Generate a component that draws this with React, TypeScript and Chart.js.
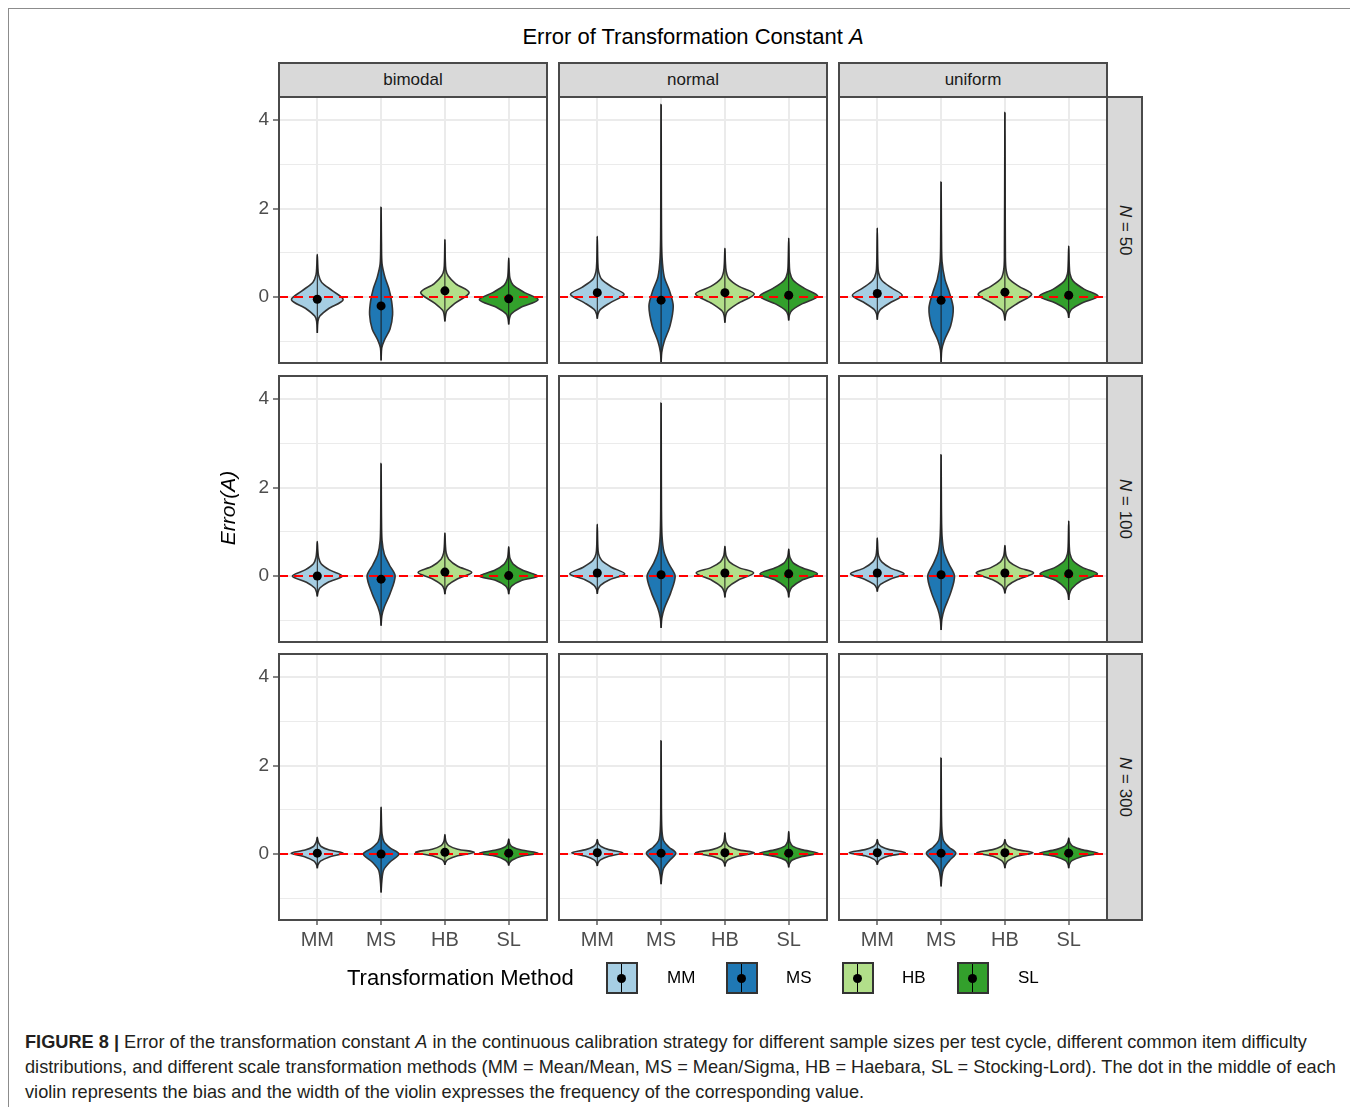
import React, { useEffect, useRef } from "react";
import { Chart, registerables } from "chart.js";

Chart.register(...registerables);

// ---------------- data ----------------
const methods = ["MM", "MS", "HB", "SL"];
const methodColors = ["#A6CEE3", "#1F78B4", "#B2DF8A", "#33A02C"];
const distributions = ["bimodal", "normal", "uniform"];
const sampleSizes = ["50", "100", "300"];
const yMajorBreaks = [0, 2, 4];
const yMinorBreaks = [-1, 1, 3];
const yLimits = [-1.49, 4.52];
const xLimits = [0.4, 4.6];

// bias (dot) per [distribution][method]
const biasN50 = [
  [-0.05, -0.2, 0.14, -0.04],
  [0.1, -0.07, 0.1, 0.04],
  [0.08, -0.075, 0.11, 0.04],
];
const biasN100 = [
  [0.0, -0.07, 0.09, 0.01],
  [0.07, 0.03, 0.07, 0.05],
  [0.07, 0.03, 0.07, 0.05],
];
const biasN300 = [
  [0.02, 0.0, 0.04, 0.02],
  [0.03, 0.02, 0.03, 0.02],
  [0.03, 0.02, 0.03, 0.02],
];

// violin outline per [distribution][method]: [error value, half width]
const violinN50 = [
  [
    [[-0.81, 0], [-0.55, 0.01], [-0.43, 0.04], [-0.27, 0.17], [-0.06, 0.405], [0.14, 0.24], [0.33, 0.07], [0.5, 0.02], [0.7, 0.008], [0.96, 0]],
    [[-1.43, 0], [-1.15, 0.01], [-0.98, 0.05], [-0.72, 0.14], [-0.4, 0.18], [-0.1, 0.165], [0.2, 0.12], [0.45, 0.06], [0.75, 0.015], [1.2, 0.006], [2.03, 0]],
    [[-0.55, 0], [-0.4, 0.012], [-0.3, 0.035], [-0.15, 0.15], [0.1, 0.38], [0.3, 0.17], [0.48, 0.05], [0.62, 0.015], [0.85, 0.006], [1.3, 0]],
    [[-0.62, 0], [-0.48, 0.012], [-0.38, 0.04], [-0.24, 0.18], [-0.06, 0.46], [0.1, 0.25], [0.27, 0.07], [0.42, 0.02], [0.6, 0.008], [0.88, 0]],
  ],
  [
    [[-0.49, 0], [-0.38, 0.012], [-0.28, 0.05], [-0.13, 0.2], [0.06, 0.42], [0.22, 0.24], [0.4, 0.07], [0.58, 0.02], [0.8, 0.008], [1.37, 0]],
    [[-1.5, 0], [-1.25, 0.01], [-1.0, 0.05], [-0.65, 0.14], [-0.2, 0.19], [0.15, 0.13], [0.45, 0.05], [0.9, 0.015], [1.6, 0.006], [4.35, 0]],
    [[-0.58, 0], [-0.42, 0.012], [-0.32, 0.04], [-0.15, 0.2], [0.07, 0.46], [0.24, 0.22], [0.42, 0.06], [0.58, 0.02], [0.78, 0.008], [1.1, 0]],
    [[-0.53, 0], [-0.4, 0.012], [-0.3, 0.05], [-0.16, 0.2], [0.02, 0.455], [0.2, 0.24], [0.38, 0.07], [0.55, 0.02], [0.8, 0.008], [1.33, 0]],
  ],
  [
    [[-0.51, 0], [-0.38, 0.012], [-0.28, 0.05], [-0.14, 0.19], [0.04, 0.39], [0.2, 0.23], [0.38, 0.07], [0.55, 0.02], [0.8, 0.008], [1.56, 0]],
    [[-1.47, 0], [-1.2, 0.01], [-0.98, 0.05], [-0.65, 0.15], [-0.25, 0.19], [0.1, 0.13], [0.4, 0.06], [0.8, 0.015], [1.4, 0.006], [2.6, 0]],
    [[-0.53, 0], [-0.4, 0.012], [-0.3, 0.04], [-0.14, 0.2], [0.06, 0.42], [0.24, 0.22], [0.42, 0.06], [0.6, 0.02], [0.9, 0.008], [4.17, 0]],
    [[-0.47, 0], [-0.36, 0.012], [-0.27, 0.05], [-0.14, 0.2], [0.02, 0.46], [0.18, 0.24], [0.36, 0.07], [0.52, 0.02], [0.75, 0.008], [1.15, 0]],
  ],
];
const violinN100 = [
  [
    [[-0.46, 0], [-0.36, 0.012], [-0.27, 0.04], [-0.14, 0.17], [0.0, 0.39], [0.14, 0.19], [0.28, 0.06], [0.42, 0.02], [0.58, 0.008], [0.78, 0]],
    [[-1.12, 0], [-0.9, 0.012], [-0.7, 0.05], [-0.4, 0.14], [0.0, 0.22], [0.25, 0.13], [0.5, 0.05], [0.8, 0.015], [1.3, 0.006], [2.54, 0]],
    [[-0.41, 0], [-0.3, 0.012], [-0.2, 0.05], [-0.06, 0.2], [0.08, 0.42], [0.22, 0.2], [0.38, 0.06], [0.52, 0.02], [0.7, 0.008], [0.97, 0]],
    [[-0.41, 0], [-0.31, 0.012], [-0.22, 0.05], [-0.1, 0.2], [0.0, 0.46], [0.13, 0.22], [0.27, 0.07], [0.4, 0.02], [0.52, 0.008], [0.66, 0]],
  ],
  [
    [[-0.4, 0], [-0.3, 0.012], [-0.21, 0.05], [-0.08, 0.2], [0.05, 0.43], [0.2, 0.22], [0.35, 0.07], [0.5, 0.02], [0.7, 0.008], [1.17, 0]],
    [[-1.17, 0], [-0.95, 0.012], [-0.73, 0.05], [-0.38, 0.15], [0.0, 0.22], [0.28, 0.12], [0.55, 0.045], [0.9, 0.015], [1.5, 0.006], [3.91, 0]],
    [[-0.48, 0], [-0.36, 0.012], [-0.25, 0.05], [-0.1, 0.2], [0.07, 0.45], [0.19, 0.22], [0.32, 0.07], [0.45, 0.02], [0.55, 0.008], [0.67, 0]],
    [[-0.48, 0], [-0.36, 0.012], [-0.25, 0.05], [-0.1, 0.2], [0.05, 0.45], [0.18, 0.22], [0.3, 0.07], [0.42, 0.02], [0.5, 0.008], [0.61, 0]],
  ],
  [
    [[-0.35, 0], [-0.27, 0.012], [-0.19, 0.05], [-0.07, 0.2], [0.05, 0.42], [0.18, 0.21], [0.32, 0.07], [0.46, 0.02], [0.62, 0.008], [0.86, 0]],
    [[-1.22, 0], [-0.98, 0.012], [-0.75, 0.05], [-0.38, 0.15], [0.0, 0.21], [0.28, 0.12], [0.55, 0.045], [0.9, 0.015], [1.4, 0.006], [2.74, 0]],
    [[-0.39, 0], [-0.3, 0.012], [-0.21, 0.05], [-0.08, 0.2], [0.07, 0.45], [0.19, 0.22], [0.32, 0.07], [0.45, 0.02], [0.56, 0.008], [0.69, 0]],
    [[-0.54, 0], [-0.4, 0.012], [-0.28, 0.05], [-0.1, 0.2], [0.05, 0.45], [0.19, 0.22], [0.34, 0.07], [0.5, 0.02], [0.7, 0.008], [1.24, 0]],
  ],
];
const violinN300 = [
  [
    [[-0.32, 0], [-0.24, 0.012], [-0.16, 0.05], [-0.07, 0.18], [0.02, 0.41], [0.09, 0.19], [0.17, 0.06], [0.26, 0.02], [0.32, 0.008], [0.38, 0]],
    [[-0.87, 0], [-0.6, 0.012], [-0.36, 0.04], [-0.18, 0.14], [0.0, 0.28], [0.14, 0.14], [0.28, 0.045], [0.45, 0.015], [0.7, 0.006], [1.06, 0]],
    [[-0.24, 0], [-0.18, 0.012], [-0.12, 0.05], [-0.04, 0.2], [0.04, 0.46], [0.11, 0.2], [0.19, 0.06], [0.27, 0.02], [0.34, 0.008], [0.44, 0]],
    [[-0.26, 0], [-0.2, 0.012], [-0.14, 0.05], [-0.05, 0.2], [0.02, 0.46], [0.09, 0.2], [0.16, 0.06], [0.22, 0.02], [0.28, 0.008], [0.34, 0]],
  ],
  [
    [[-0.27, 0], [-0.2, 0.012], [-0.13, 0.05], [-0.05, 0.18], [0.03, 0.4], [0.1, 0.18], [0.17, 0.06], [0.23, 0.02], [0.28, 0.008], [0.33, 0]],
    [[-0.68, 0], [-0.5, 0.012], [-0.32, 0.04], [-0.15, 0.13], [0.02, 0.23], [0.16, 0.12], [0.3, 0.04], [0.5, 0.015], [0.9, 0.006], [2.56, 0]],
    [[-0.28, 0], [-0.2, 0.012], [-0.13, 0.05], [-0.05, 0.2], [0.03, 0.46], [0.1, 0.2], [0.18, 0.06], [0.27, 0.02], [0.36, 0.008], [0.48, 0]],
    [[-0.3, 0], [-0.22, 0.012], [-0.14, 0.05], [-0.06, 0.2], [0.02, 0.46], [0.1, 0.2], [0.18, 0.06], [0.27, 0.02], [0.36, 0.008], [0.51, 0]],
  ],
  [
    [[-0.24, 0], [-0.18, 0.012], [-0.12, 0.05], [-0.04, 0.19], [0.03, 0.44], [0.1, 0.19], [0.17, 0.06], [0.23, 0.02], [0.28, 0.008], [0.33, 0]],
    [[-0.73, 0], [-0.52, 0.012], [-0.33, 0.04], [-0.15, 0.13], [0.02, 0.23], [0.16, 0.12], [0.3, 0.04], [0.5, 0.015], [0.85, 0.006], [2.17, 0]],
    [[-0.32, 0], [-0.23, 0.012], [-0.15, 0.05], [-0.05, 0.19], [0.03, 0.44], [0.1, 0.19], [0.17, 0.06], [0.23, 0.02], [0.28, 0.008], [0.33, 0]],
    [[-0.32, 0], [-0.23, 0.012], [-0.15, 0.05], [-0.06, 0.2], [0.02, 0.46], [0.1, 0.2], [0.18, 0.06], [0.25, 0.02], [0.3, 0.008], [0.36, 0]],
  ],
];

const violinRows = [violinN50, violinN100, violinN300];
const biasRows = [biasN50, biasN100, biasN300];

// ---------------- layout ----------------
const OFF = 8;
const FONT = "'Liberation Sans', Arial, Helvetica, sans-serif";
const panelX = [279, 559, 839];
const panelY = [97, 376, 654];
const PW = 268;
const PH = 266;
const AXIS_W = 50;
const AXIS_H = 45;
const STRIP_TOP = 62;
const STRIP_RIGHT_W = 35;

function buildDatasets(profiles: number[][][], bias: number[]) {
  const ds: any[] = [];
  profiles.forEach((prof, i) => {
    const cx = i + 1;
    const right = prof.map(([y, w]) => ({ x: cx + w, y }));
    const left = prof
      .slice()
      .reverse()
      .map(([y, w]) => ({ x: cx - w, y }));
    ds.push({
      data: right.concat(left.slice(1)),
      showLine: true,
      fill: "shape",
      backgroundColor: methodColors[i],
      borderColor: "#333333",
      borderWidth: 1.6,
      pointRadius: 0,
      tension: 0.3,
      order: 5,
    });
    ds.push({
      data: [
        { x: cx, y: prof[0][0] },
        { x: cx, y: prof[prof.length - 1][0] },
      ],
      showLine: true,
      borderColor: "#1a1a1a",
      borderWidth: 1,
      pointRadius: 0,
      order: 4,
    });
  });
  ds.push({
    data: [
      { x: xLimits[0], y: 0 },
      { x: xLimits[1], y: 0 },
    ],
    showLine: true,
    borderColor: "#ff0000",
    borderWidth: 2,
    borderDash: [9, 6],
    pointRadius: 0,
    order: 3,
  });
  ds.push({
    data: bias.map((b, i) => ({ x: i + 1, y: b })),
    showLine: false,
    pointRadius: 4.5,
    pointBackgroundColor: "#000000",
    pointBorderWidth: 0,
    backgroundColor: "#000000",
    borderColor: "#000000",
    order: 2,
  });
  return ds;
}

function Panel({ row, col }: { row: number; col: number }) {
  const ref = useRef<HTMLCanvasElement>(null);
  const isLeft = col === 0;
  const isBottom = row === 2;
  const w = PW + (isLeft ? AXIS_W : 0);
  const h = PH + (isBottom ? AXIS_H : 0);
  useEffect(() => {
    if (!ref.current) return;
    const chart = new Chart(ref.current, {
      type: "scatter",
      data: { datasets: buildDatasets(violinRows[row][col], biasRows[row][col]) },
      options: {
        animation: false,
        responsive: false,
        maintainAspectRatio: false,
        events: [],
        layout: { padding: 0, autoPadding: false },
        plugins: {
          legend: { display: false },
          tooltip: { enabled: false },
          title: { display: false },
        },
        scales: {
          x: {
            type: "linear",
            min: xLimits[0],
            max: xLimits[1],
            afterBuildTicks: (s: any) => {
              s.ticks = methods.map((_, i) => ({ value: i + 1 }));
            },
            afterFit: (s: any) => {
              s.height = isBottom ? AXIS_H : 0;
              s.paddingLeft = 0;
              s.paddingRight = 0;
              s.paddingTop = 0;
              s.paddingBottom = 0;
            },
            ticks: {
              display: isBottom,
              autoSkip: false,
              maxRotation: 0,
              padding: 3,
              color: "#4d4d4d",
              font: { family: FONT, size: 20 },
              callback: (v: any) => methods[Math.round(Number(v)) - 1] ?? "",
            },
            grid: {
              color: "#ebebeb",
              lineWidth: 2,
              drawTicks: isBottom,
              tickLength: 5,
              tickColor: "#333333",
              tickWidth: 1.2,
            },
            border: { display: false },
          },
          y: {
            type: "linear",
            min: yLimits[0],
            max: yLimits[1],
            afterBuildTicks: (s: any) => {
              s.ticks = [...yMinorBreaks, ...yMajorBreaks]
                .sort((a, b) => a - b)
                .map((v) => ({ value: v }));
            },
            afterFit: (s: any) => {
              s.width = isLeft ? AXIS_W : 0;
              s.paddingLeft = 0;
              s.paddingRight = 0;
              s.paddingTop = 0;
              s.paddingBottom = 0;
            },
            ticks: {
              display: isLeft,
              padding: 4,
              color: "#4d4d4d",
              font: { family: FONT, size: 19 },
              callback: (v: any) => (yMajorBreaks.includes(Number(v)) ? String(v) : ""),
            },
            grid: {
              color: "#ebebeb",
              lineWidth: (c: any) => (c.tick && yMajorBreaks.includes(c.tick.value) ? 2 : 1),
              drawTicks: isLeft,
              tickLength: 6,
              tickWidth: 1.2,
              tickColor: (c: any) =>
                c.tick && yMajorBreaks.includes(c.tick.value) ? "#333333" : "rgba(0,0,0,0)",
            },
            border: { display: false },
          },
        },
      } as any,
    });
    return () => chart.destroy();
  }, [row, col]);
  return (
    <>
      <canvas
        ref={ref}
        width={w}
        height={h}
        style={{
          position: "absolute",
          left: panelX[col] - (isLeft ? AXIS_W : 0) - OFF,
          top: panelY[row] - OFF,
          width: w,
          height: h,
        }}
      />
      <div
        style={{
          position: "absolute",
          left: panelX[col] - OFF - 1,
          top: panelY[row] - OFF - 1,
          width: PW + 2,
          height: PH + 2,
          border: "2px solid #4a4a4a",
          boxSizing: "border-box",
          pointerEvents: "none",
        }}
      />
    </>
  );
}

function LegendKey({ color, x }: { color: string; x: number }) {
  return (
    <div
      style={{
        position: "absolute",
        left: x - OFF,
        top: 962 - OFF,
        width: 32,
        height: 32,
        background: color,
        border: "2px solid #333",
        boxSizing: "border-box",
      }}
    >
      <div style={{ position: "absolute", left: 13, top: 0, width: 1, height: 28, background: "#000" }} />
      <div
        style={{
          position: "absolute",
          left: 9,
          top: 9.5,
          width: 9,
          height: 9,
          borderRadius: "50%",
          background: "#000",
        }}
      />
    </div>
  );
}

export default function App() {
  const keyX = [606, 726, 842, 957];
  const labelX = [667, 786, 902, 1018];
  const captionStyle: React.CSSProperties = {
    position: "absolute",
    left: 25 - OFF,
    whiteSpace: "nowrap",
    fontFamily: FONT,
    fontSize: 18.2,
    lineHeight: "25px",
    color: "#231f20",
  };
  return (
    <div style={{ position: "relative", width: 1342, height: 1099, fontFamily: FONT }}>
      <style>{`html{overflow:hidden;}`}</style>
      <div
        style={{
          position: "absolute",
          left: 0,
          top: 0,
          width: 1349,
          height: 1120,
          border: "1px solid #8c8c8c",
          boxSizing: "border-box",
        }}
      />
      <div
        style={{
          position: "absolute",
          left: panelX[0] - OFF,
          width: panelX[2] + PW - panelX[0],
          top: 37 - 14 - OFF,
          lineHeight: "28px",
          fontSize: 22,
          textAlign: "center",
          color: "#000",
        }}
      >
        Error of Transformation Constant <i>A</i>
      </div>

      {distributions.map((d, c) => (
        <div
          key={d}
          style={{
            position: "absolute",
            left: panelX[c] - OFF - 1,
            top: STRIP_TOP - OFF,
            width: PW + 2,
            height: panelY[0] - STRIP_TOP + 1,
            background: "#d9d9d9",
            border: "2px solid #4a4a4a",
            boxSizing: "border-box",
            display: "flex",
            alignItems: "center",
            justifyContent: "center",
            fontSize: 17,
            color: "#1a1a1a",
          }}
        >
          {d}
        </div>
      ))}

      {sampleSizes.map((n, r) => (
        <div
          key={n}
          style={{
            position: "absolute",
            left: panelX[2] + PW - OFF - 1,
            top: panelY[r] - OFF - 1,
            width: STRIP_RIGHT_W + 2,
            height: PH + 2,
            background: "#d9d9d9",
            border: "2px solid #4a4a4a",
            boxSizing: "border-box",
            display: "flex",
            alignItems: "center",
            justifyContent: "center",
            fontSize: 17,
            color: "#1a1a1a",
          }}
        >
          <span style={{ writingMode: "vertical-rl" }}>
            <i>N</i> = {n}
          </span>
        </div>
      ))}

      {[0, 1, 2].map((r) => [0, 1, 2].map((c) => <Panel key={`${r}-${c}`} row={r} col={c} />))}

      <div
        style={{
          position: "absolute",
          left: 228 - 60 - OFF,
          top: 508 - 14 - OFF,
          width: 120,
          height: 28,
          lineHeight: "28px",
          textAlign: "center",
          fontSize: 21,
          fontStyle: "italic",
          color: "#000",
          transform: "rotate(-90deg)",
        }}
      >
        Error(A)
      </div>

      <div
        style={{
          position: "absolute",
          left: 347 - OFF,
          top: 978 - 14 - OFF,
          lineHeight: "28px",
          fontSize: 22,
          color: "#000",
          whiteSpace: "nowrap",
        }}
      >
        Transformation Method
      </div>
      {methods.map((m, i) => (
        <React.Fragment key={m}>
          <LegendKey color={methodColors[i]} x={keyX[i]} />
          <div
            style={{
              position: "absolute",
              left: labelX[i] - OFF,
              top: 978 - 12 - OFF,
              lineHeight: "24px",
              fontSize: 17,
              color: "#000",
            }}
          >
            {m}
          </div>
        </React.Fragment>
      ))}

      <div style={{ ...captionStyle, top: 1042 - 12.5 - OFF }}>
        <b>FIGURE 8 |</b> Error of the transformation constant <i>A</i> in the continuous calibration strategy for
        different sample sizes per test cycle, different common item difficulty
      </div>
      <div style={{ ...captionStyle, top: 1067 - 12.5 - OFF }}>
        distributions, and different scale transformation methods (MM = Mean/Mean, MS = Mean/Sigma, HB = Haebara, SL =
        Stocking-Lord). The dot in the middle of each
      </div>
      <div style={{ ...captionStyle, top: 1092 - 12.5 - OFF }}>
        violin represents the bias and the width of the violin expresses the frequency of the corresponding value.
      </div>
    </div>
  );
}
